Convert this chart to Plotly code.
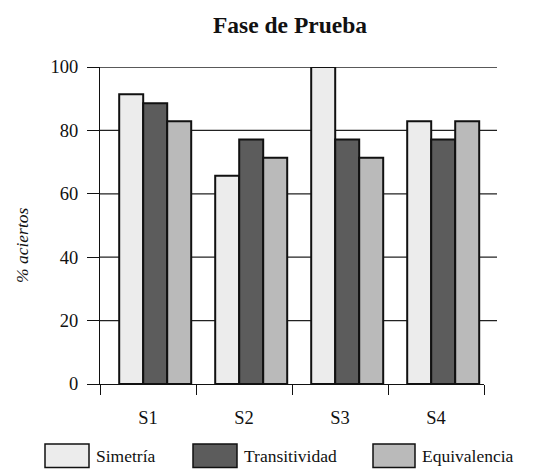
import plotly.graph_objects as go

categories = ["S1", "S2", "S3", "S4"]
series_names = ["Simetría", "Transitividad", "Equivalencia"]
simetria = [91.4, 65.7, 100.0, 82.9]
transitividad = [88.6, 77.1, 77.1, 77.1]
equivalencia = [82.9, 71.4, 71.4, 82.9]
y_ticks = [0, 20, 40, 60, 80, 100]

series_values = [simetria, transitividad, equivalencia]
colors = ["#ececec", "#5c5c5c", "#bababa"]
offsets = [-0.30, -0.05, 0.20]
BAR_W = 0.25

# page has an 8px body margin; figure sized so it ends at the window edge
PAGE_OFF = 8
W, H = 536 - PAGE_OFF, 469 - PAGE_OFF
PLOT_L, PLOT_R, PLOT_T, PLOT_B = 100, 484, 67, 384   # in window pixels
L, R, T, B = PLOT_L - PAGE_OFF, 536 - PLOT_R, PLOT_T - PAGE_OFF, 469 - PLOT_B
pw, ph = PLOT_R - PLOT_L, PLOT_B - PLOT_T

def px(x):
    return (x - PLOT_L) / pw

def py(y):
    return (PLOT_B - y) / ph

FONT = "Liberation Serif"
FS = 17.5
TICK_FS = 18.5

fig = go.Figure()
for name, vals, c, off in zip(series_names, series_values, colors, offsets):
    fig.add_trace(go.Bar(
        x=categories, y=vals, name=name, width=BAR_W, offset=off,
        marker=dict(color=c, line=dict(color="#111", width=2)),
        showlegend=False,
    ))

shapes = []
for v in y_ticks[1:]:
    shapes.append(dict(type="line", xref="paper", yref="y", x0=0, x1=px(497), y0=v, y1=v,
                       line=dict(color="#222", width=1.3), layer="below"))

annotations = []
legend_boxes = [(45, 89), (193, 237), (373, 415)]
for (x0, x1), name, c in zip(legend_boxes, series_names, colors):
    shapes.append(dict(type="rect", xref="paper", yref="paper",
                       x0=px(x0), x1=px(x1), y0=py(444), y1=py(467.5),
                       fillcolor=c, line=dict(color="#111", width=1.5)))
    annotations.append(dict(xref="paper", yref="paper", x=px(x1 + 5), y=py(456),
                            xanchor="left", yanchor="middle", showarrow=False,
                            text=name, font=dict(family=FONT, size=FS, color="#111")))

annotations.append(dict(xref="paper", yref="paper", x=px(22), y=py(245),
                        xanchor="center", yanchor="middle", showarrow=False, textangle=-90,
                        text="<i>% aciertos</i>", font=dict(family=FONT, size=FS, color="#111")))

fig.update_layout(
    width=W, height=H,
    margin=dict(l=L, r=R, t=T, b=B, pad=0),
    paper_bgcolor="white", plot_bgcolor="white",
    barmode="overlay",
    title=dict(text="<b>Fase de Prueba</b>", x=(290 - PAGE_OFF) / W, y=1 - (25 - PAGE_OFF) / H,
               xanchor="center", yanchor="middle",
               font=dict(family=FONT, size=23.5, color="#111")),
    font=dict(family=FONT, size=FS, color="#111"),
    shapes=shapes, annotations=annotations,
    xaxis=dict(type="category", range=[-0.5, 3.5], tickson="boundaries",
               ticks="outside", ticklen=10, tickwidth=1.3, tickcolor="#111",
               showline=True, linecolor="#111", linewidth=1.3,
               showgrid=False, ticklabelstandoff=17,
               tickfont=dict(family=FONT, size=TICK_FS, color="#111")),
    yaxis=dict(range=[0, 100], tickvals=y_ticks, ticks="outside", ticklen=12,
               tickwidth=1.3, tickcolor="#111", showline=True, linecolor="#111",
               linewidth=1.3, showgrid=False, zeroline=False, ticklabelstandoff=5,
               tickfont=dict(family=FONT, size=TICK_FS, color="#111")),
)

fig.write_html("out.html")
